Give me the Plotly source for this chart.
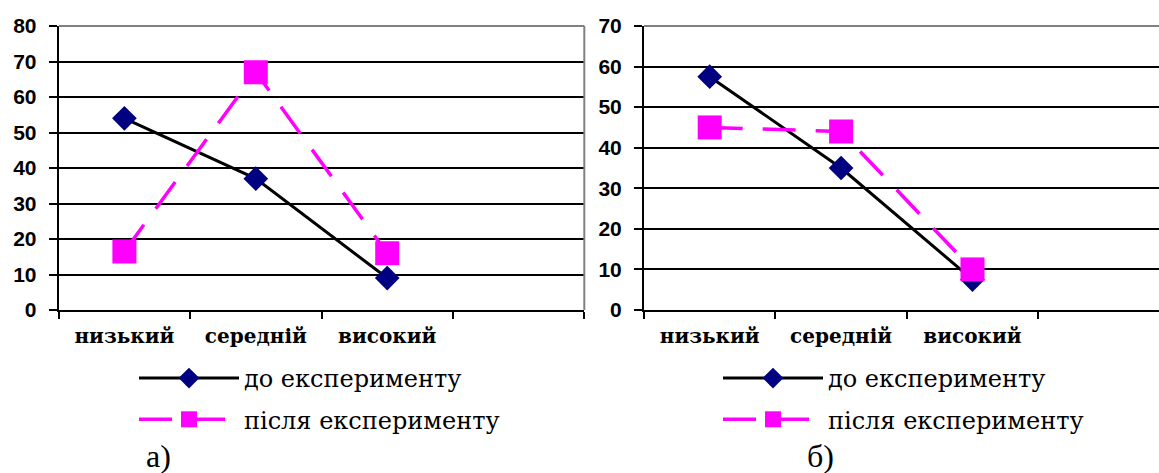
import plotly.graph_objects as go

# ---------------- data ----------------
categories = ["низький", "середній", "високий"]
n_slots = 4  # Excel-style category slots (last one empty)
before_a = [54, 37, 9]
after_a = [16.5, 67, 16]
before_b = [57.5, 35, 7.5]
after_b = [45, 44, 10]
yticks_a = [0, 10, 20, 30, 40, 50, 60, 70, 80]
yticks_b = [0, 10, 20, 30, 40, 50, 60, 70]
series_names = ["до експерименту", "після експерименту"]
panel_labels = ["а)", "б)"]

# ---------------- layout constants ----------------
W, H = 1159, 473
plot_top, plot_bottom = 26, 310
left_a, right_a = 58.7, 584.3
left_b = 644.0
slot_px = (right_a - left_a) / n_slots

xs = list(range(len(categories)))
bounds = [i - 0.5 for i in range(n_slots + 1)]
ydom = [(H - plot_bottom) / H, (H - plot_top) / H]
xdom_a = [left_a / W, right_a / W]
xdom_b = [left_b / W, 1.0]
xrange_a = [-0.5, n_slots - 0.5]
xrange_b = [-0.5, -0.5 + (W - left_b) / slot_px]

NAVY = "#000080"
MAGENTA = "#FF00FF"
GREY = "#808080"
SANS = "Liberation Sans"
SERIF = "Times New Roman"
WIDE_SERIF = "DejaVu Serif"

fig = go.Figure()


def add_panel(xa, ya, before, after, legend):
    fig.add_trace(go.Scatter(
        x=xs, y=before, name=series_names[0], mode="lines+markers",
        line=dict(color="black", width=3),
        marker=dict(symbol="diamond", size=19, color=NAVY),
        xaxis=xa, yaxis=ya, legend=legend, legendgroup=legend + "_b"))
    fig.add_trace(go.Scatter(
        x=xs, y=after, name=series_names[1], mode="lines+markers",
        line=dict(color=MAGENTA, width=3.5, dash="33px,20px"),
        marker=dict(symbol="square", size=24, color=MAGENTA),
        xaxis=xa, yaxis=ya, legend=legend, legendgroup=legend + "_a"))


add_panel("x", "y", before_a, after_a, "legend")
add_panel("x2", "y2", before_b, after_b, "legend2")

x_axis = dict(
    showgrid=False, zeroline=False, showline=True, linecolor="black", linewidth=2,
    tickmode="array", tickvals=xs, ticktext=categories, ticks="",
    ticklabelstandoff=7,
    tickfont=dict(family=WIDE_SERIF, size=20, color="black", weight="bold"),
    minor=dict(tickmode="array", tickvals=bounds, ticks="outside", ticklen=7,
               tickwidth=2, tickcolor="black", showgrid=False),
)
y_axis = dict(
    domain=ydom, showgrid=True, gridcolor="black", gridwidth=2, zeroline=False,
    showline=True, linecolor="black", linewidth=2,
    ticks="outside", ticklen=8, tickwidth=2, tickcolor="black",
    tickfont=dict(family=SANS, size=21, color="black", weight="bold"),
    ticklabelstandoff=8,
)
legend_common = dict(
    xanchor="left", yanchor="top",
    font=dict(family=WIDE_SERIF, size=24, color="black"),
    bgcolor="rgba(0,0,0,0)", traceorder="grouped", tracegroupgap=7,
    itemwidth=100,
)

fig.update_layout(
    width=W, height=H, margin=dict(l=0, r=0, t=0, b=0, autoexpand=False),
    font=dict(family=SERIF, color="black"),
    paper_bgcolor="white", plot_bgcolor="white",
    xaxis=dict(domain=xdom_a, range=xrange_a, anchor="y", **x_axis),
    xaxis2=dict(domain=xdom_b, range=xrange_b, anchor="y2", **x_axis),
    yaxis=dict(anchor="x", range=[yticks_a[0], yticks_a[-1]], tickvals=yticks_a, **y_axis),
    yaxis2=dict(anchor="x2", range=[yticks_b[0], yticks_b[-1]], tickvals=yticks_b, **y_axis),
    showlegend=True,
    legend=dict(x=134 / W, y=(H - 356) / H, **legend_common),
    legend2=dict(x=718 / W, y=(H - 356) / H, **legend_common),
    shapes=[
        dict(type="line", xref="x domain", yref="y domain", x0=0, x1=1, y0=1, y1=1,
             line=dict(color=GREY, width=2), layer="above"),
        dict(type="line", xref="x domain", yref="y domain", x0=1, x1=1, y0=0, y1=1,
             line=dict(color=GREY, width=2), layer="above"),
        dict(type="line", xref="x2 domain", yref="y2 domain", x0=0, x1=1, y0=1, y1=1,
             line=dict(color=GREY, width=2), layer="above"),
    ],
    annotations=[
        dict(text=panel_labels[0], xref="paper", yref="paper", x=158 / W, y=(H - 456) / H,
             xanchor="center", yanchor="middle", showarrow=False,
             font=dict(family=SERIF, size=32, color="black")),
        dict(text=panel_labels[1], xref="paper", yref="paper", x=820 / W, y=(H - 456) / H,
             xanchor="center", yanchor="middle", showarrow=False,
             font=dict(family=SERIF, size=32, color="black")),
    ],
)

fig.write_html("out.html")
